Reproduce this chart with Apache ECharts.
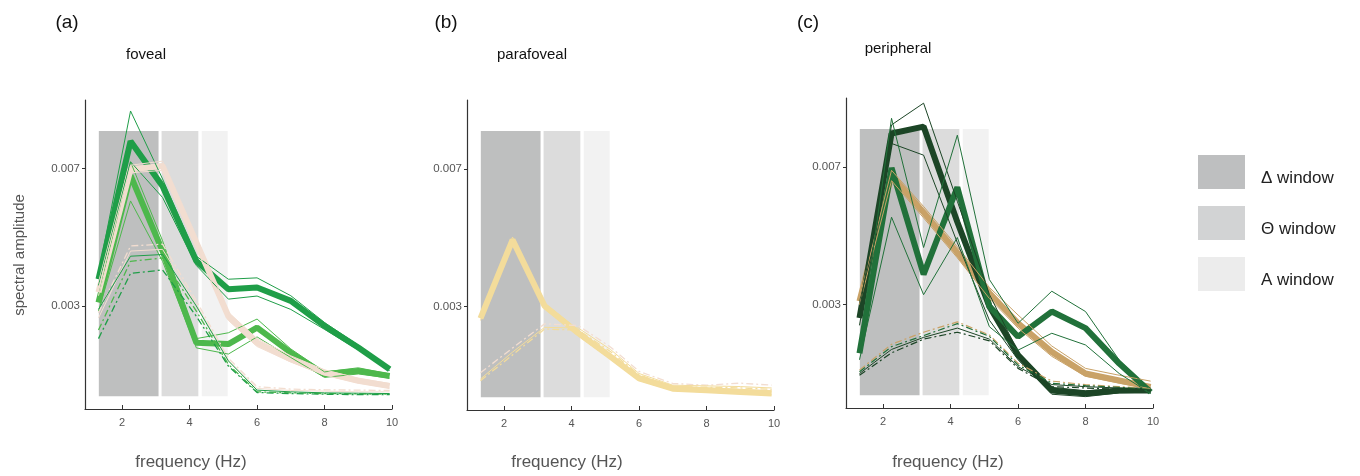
<!DOCTYPE html>
<html>
<head>
<meta charset="utf-8">
<script src="https://cdn.jsdelivr.net/npm/echarts@6/dist/echarts.min.js"></script>
<style>
  html, body { margin: 0; padding: 0; background: #fff; }
  #chart { width: 1360px; height: 476px; }
</style>
</head>
<body>
<div id="chart"></div>
<script>
// frequency bins (Hz)
const freqs = [1.3, 2.25, 3.2, 4.2, 5.15, 6, 7, 8, 9, 9.93]

// analysis windows (Hz) and their vertical extent
const windowNames = ['Δ window', 'Θ window', 'A window']
const windowStart = [1.31, 3.17, 4.36]
const windowEnd = [3.08, 4.26, 5.13]
const windowTop = 0.0081
const windowBottom = 0.00037

// (a) foveal
const fovDark = [0.00378, 0.00780, 0.00649, 0.00431, 0.00349, 0.00354, 0.00315, 0.00242, 0.00179, 0.00116]
const fovDarkHi = [0.00395, 0.00868, 0.00670, 0.00445, 0.00378, 0.00382, 0.00330, 0.00252, 0.00186, 0.00122]
const fovDarkLo = [0.00360, 0.00720, 0.00616, 0.00418, 0.00320, 0.00329, 0.00290, 0.00232, 0.00172, 0.00112]
const fovLight = [0.00310, 0.00680, 0.00460, 0.00193, 0.00189, 0.00237, 0.00164, 0.00101, 0.00111, 0.00096]
const fovLightHi = [0.00330, 0.00720, 0.00490, 0.00205, 0.00222, 0.00262, 0.00175, 0.00108, 0.00120, 0.00102]
const fovLightLo = [0.00285, 0.00606, 0.00430, 0.00178, 0.00160, 0.00210, 0.00150, 0.00092, 0.00102, 0.00090]
const fovPink = [0.00340, 0.00698, 0.00708, 0.00485, 0.00270, 0.00193, 0.00145, 0.00106, 0.00082, 0.00067]
const fovPinkHi = [0.00350, 0.00710, 0.00722, 0.00500, 0.00282, 0.00205, 0.00155, 0.00114, 0.00090, 0.00074]
const fovPinkLo = [0.00330, 0.00688, 0.00695, 0.00470, 0.00258, 0.00182, 0.00137, 0.00099, 0.00076, 0.00061]
const fovBaseDark = [0.00290, 0.00445, 0.00450, 0.00300, 0.00140, 0.00055, 0.00050, 0.00047, 0.00046, 0.00045]
const fovBaseDarkDash = [0.00205, 0.00395, 0.00405, 0.00270, 0.00125, 0.00048, 0.00045, 0.00043, 0.00042, 0.00042]
const fovBaseLight = [0.00230, 0.00430, 0.00440, 0.00285, 0.00130, 0.00050, 0.00047, 0.00045, 0.00044, 0.00043]
const fovBasePink = [0.00280, 0.00475, 0.00480, 0.00315, 0.00148, 0.00065, 0.00058, 0.00056, 0.00055, 0.00054]
const fovBasePink2 = [0.00265, 0.00460, 0.00465, 0.00305, 0.00142, 0.00060, 0.00054, 0.00052, 0.00050, 0.00050]

// (b) parafoveal
const parYellow = [0.00266, 0.00494, 0.00302, 0.00223, 0.00155, 0.00092, 0.00062, 0.00057, 0.00052, 0.00048]
const parYellowHi = [0.00272, 0.00502, 0.00310, 0.00232, 0.00163, 0.00100, 0.00070, 0.00064, 0.00060, 0.00056]
const parYellowLo = [0.00260, 0.00486, 0.00295, 0.00215, 0.00148, 0.00086, 0.00057, 0.00052, 0.00048, 0.00044]
const parBase = [0.00085, 0.00160, 0.00235, 0.00232, 0.00170, 0.00102, 0.00068, 0.00066, 0.00064, 0.00060]
const parBase2 = [0.00090, 0.00168, 0.00240, 0.00238, 0.00176, 0.00106, 0.00072, 0.00070, 0.00068, 0.00064]
const parBasePink = [0.00108, 0.00180, 0.00250, 0.00245, 0.00183, 0.00112, 0.00077, 0.00072, 0.00078, 0.00072]

// (c) peripheral
const perDark = [0.00261, 0.00797, 0.00817, 0.00540, 0.00295, 0.00154, 0.00051, 0.00042, 0.00051, 0.00051]
const perDarkHi = [0.00285, 0.00822, 0.00885, 0.00600, 0.00330, 0.00162, 0.00060, 0.00050, 0.00056, 0.00055]
const perDarkLo = [0.00240, 0.00768, 0.00734, 0.00480, 0.00255, 0.00140, 0.00040, 0.00033, 0.00044, 0.00046]
const perMid = [0.00159, 0.00697, 0.00388, 0.00641, 0.00295, 0.00207, 0.00280, 0.00232, 0.00129, 0.00046]
const perMidHi = [0.00180, 0.00841, 0.00466, 0.00792, 0.00373, 0.00246, 0.00339, 0.00280, 0.00139, 0.00050]
const perMidLo = [0.00140, 0.00554, 0.00329, 0.00495, 0.00236, 0.00168, 0.00217, 0.00183, 0.00100, 0.00042]
const perTan = [0.00310, 0.00675, 0.00568, 0.00451, 0.00334, 0.00246, 0.00163, 0.00100, 0.00080, 0.00061]
const perTanHi = [0.00320, 0.00690, 0.00585, 0.00468, 0.00350, 0.00270, 0.00180, 0.00115, 0.00095, 0.00078]
const perTanLo = [0.00300, 0.00660, 0.00552, 0.00436, 0.00318, 0.00232, 0.00150, 0.00092, 0.00072, 0.00056]
const perBaseDark = [0.00095, 0.00160, 0.00200, 0.00220, 0.00195, 0.00115, 0.00062, 0.00058, 0.00055, 0.00050]
const perBaseDark2 = [0.00100, 0.00170, 0.00205, 0.00232, 0.00200, 0.00120, 0.00068, 0.00062, 0.00058, 0.00052]
const perBaseMid = [0.00105, 0.00178, 0.00210, 0.00245, 0.00208, 0.00125, 0.00072, 0.00065, 0.00060, 0.00054]
const perBaseTan = [0.00110, 0.00185, 0.00220, 0.00250, 0.00212, 0.00130, 0.00078, 0.00068, 0.00062, 0.00056]

const xTicks = [2, 4, 6, 8, 10]
const yTicks = [0.003, 0.007]

const areaColors = ['#bebfbf', '#dcdcdc', '#f2f2f2']
const legendColors = ['#bebfc0', '#d2d3d4', '#ececec']
const dashDot = [7, 3, 2, 3]

const grids = [
  { left: 85, width: 307, top: 100, height: 309 },
  { left: 467, width: 307, top: 100, height: 310 },
  { left: 846, width: 307, top: 98, height: 310 }
]

const font = 'Liberation Sans'
const chart = echarts.init(document.getElementById('chart'))

const pts = (vals) => vals.map((v, i) => [freqs[i], v])

const line = (g, vals, color, width, type, z) => ({
  type: 'line',
  xAxisIndex: g,
  yAxisIndex: g,
  data: pts(vals),
  symbol: 'none',
  silent: true,
  z: z || 2,
  lineStyle: { color: color, width: width, type: type || 'solid' },
  itemStyle: { color: color }
})

const windowSeries = (g) => ({
  type: 'line',
  xAxisIndex: g,
  yAxisIndex: g,
  data: [],
  silent: true,
  markArea: {
    silent: true,
    label: { show: false },
    data: windowStart.map((s, i) => [
      { coord: [s, windowTop], itemStyle: { color: areaColors[i] } },
      { coord: [windowEnd[i], windowBottom] }
    ])
  }
})

const legendSeries = windowNames.map((name, i) => ({
  name: name,
  type: 'line',
  xAxisIndex: 0,
  yAxisIndex: 0,
  data: [],
  color: legendColors[i],
  itemStyle: { color: legendColors[i] },
  lineStyle: { color: legendColors[i] }
}))

const dG = '#1f9e48', lG = '#4db84c', pk = '#f2ddd0'
const yl = '#f3dc9b'
const vD = '#1c4526', mG = '#21713a', tn = '#c9a267'

const series = [
  windowSeries(0), windowSeries(1), windowSeries(2),
  ...legendSeries,
  // (a)
  line(0, fovLight, lG, 6, null, 3),
  line(0, fovDark, dG, 6, null, 3),
  line(0, fovPink, pk, 6, null, 3),
  line(0, fovLightHi, lG, 1, null, 4),
  line(0, fovLightLo, lG, 1, null, 4),
  line(0, fovDarkHi, dG, 1, null, 4),
  line(0, fovDarkLo, dG, 1, null, 4),
  line(0, fovPinkHi, pk, 1, null, 4),
  line(0, fovPinkLo, pk, 1, null, 4),
  line(0, fovBasePink, pk, 1.3, dashDot, 4),
  line(0, fovBasePink2, pk, 1, null, 4),
  line(0, fovBaseLight, lG, 1.3, dashDot, 4),
  line(0, fovBaseDark, dG, 1, null, 4),
  line(0, fovBaseDarkDash, dG, 1.3, dashDot, 4),
  // (b)
  line(1, parYellow, yl, 6, null, 3),
  line(1, parYellowHi, yl, 1, null, 4),
  line(1, parYellowLo, yl, 1, null, 4),
  line(1, parBasePink, pk, 1.3, dashDot, 4),
  line(1, parBase2, yl, 1, null, 4),
  line(1, parBase, yl, 1.3, dashDot, 4),
  // (c)
  line(2, perTan, tn, 6, null, 3),
  line(2, perDark, vD, 6, null, 3),
  line(2, perMid, mG, 6, null, 3),
  line(2, perTanHi, tn, 1, null, 4),
  line(2, perTanLo, tn, 1, null, 4),
  line(2, perDarkHi, vD, 1, null, 4),
  line(2, perDarkLo, vD, 1, null, 4),
  line(2, perMidHi, mG, 1, null, 4),
  line(2, perMidLo, mG, 1, null, 4),
  line(2, perBaseTan, tn, 1.2, dashDot, 4),
  line(2, perBaseMid, mG, 1.2, dashDot, 4),
  line(2, perBaseDark2, vD, 1, null, 4),
  line(2, perBaseDark, vD, 1.2, dashDot, 4)
]

const axisColor = '#333'

const xAxes = grids.map((_, i) => ({
  type: 'value',
  gridIndex: i,
  min: 0.9,
  max: 10,
  splitLine: { show: false },
  axisLine: { show: true, onZero: false, lineStyle: { color: axisColor, width: 1.2 } },
  axisTick: { show: true, inside: true, length: 4, customValues: xTicks, lineStyle: { color: axisColor } },
  axisLabel: { customValues: xTicks, color: '#555', fontSize: 11, fontFamily: font, margin: 8 }
}))

const yAxes = grids.map((_, i) => ({
  type: 'value',
  gridIndex: i,
  min: 0,
  max: 0.009,
  splitLine: { show: false },
  axisLine: { show: true, onZero: false, lineStyle: { color: axisColor, width: 1.2 } },
  axisTick: { show: true, length: 3, customValues: yTicks, lineStyle: { color: axisColor } },
  axisLabel: {
    customValues: yTicks,
    color: '#555',
    fontSize: 11.5,
    fontFamily: font,
    margin: 5,
    formatter: (v) => v.toFixed(3)
  }
}))

const txt = (text, x, y, size, color, rot) => ({
  type: 'text',
  x: x,
  y: y,
  rotation: rot || 0,
  silent: true,
  style: {
    text: text,
    fontSize: size,
    fontFamily: font,
    fill: color,
    align: 'center',
    verticalAlign: 'middle'
  }
})

const option = {
  animation: false,
  backgroundColor: '#fff',
  grid: grids,
  xAxis: xAxes,
  yAxis: yAxes,
  legend: {
    data: windowNames,
    orient: 'vertical',
    left: 1198,
    top: 155,
    padding: 0,
    icon: 'rect',
    itemWidth: 47,
    itemHeight: 34,
    itemGap: 17,
    selectedMode: false,
    formatter: '{t|{name}}',
    textStyle: {
      fontSize: 17,
      fontFamily: font,
      color: '#222',
      rich: {
        t: { fontSize: 17, fontFamily: font, color: '#222', padding: [12, 0, 0, 11] }
      }
    }
  },
  graphic: [
    txt('(a)', 67, 23, 19, '#111'),
    txt('(b)', 446, 23, 19, '#111'),
    txt('(c)', 808, 23, 19, '#111'),
    txt('foveal', 146, 55, 15, '#111'),
    txt('parafoveal', 532, 55, 15, '#111'),
    txt('peripheral', 898, 49, 15, '#111'),
    txt('spectral amplitude', 20, 255, 15, '#555', Math.PI / 2),
    txt('frequency (Hz)', 191, 462, 17, '#555'),
    txt('frequency (Hz)', 567, 462, 17, '#555'),
    txt('frequency (Hz)', 948, 462, 17, '#555')
  ],
  series: series
}

chart.setOption(option)
</script>
</body>
</html>
